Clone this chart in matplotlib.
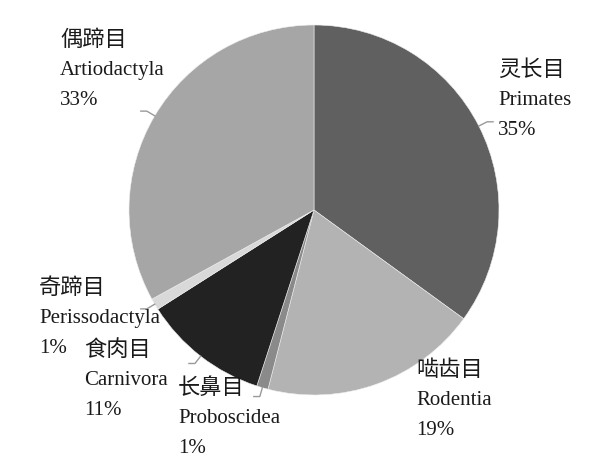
import numpy as np
import matplotlib.pyplot as plt

plt.rcParams['font.family'] = ['Liberation Serif', 'Noto Sans CJK SC']

# Orders of mammals, clockwise from 12 o'clock
names_cn = ['灵长目', '啮齿目', '长鼻目', '食肉目', '奇蹄目', '偶蹄目']
names_en = ['Primates', 'Rodentia', 'Proboscidea', 'Carnivora', 'Perissodactyla', 'Artiodactyla']
shares = [35, 19, 1, 11, 1, 33]
colors = ['#606060', '#b3b3b3', '#8a8a8a', '#222222', '#d9d9d9', '#a6a6a6']

# label placement (pixel coords, top-left of text block) and whether a leader is drawn
label_pos = [(498, 60), (416, 360), (178, 378), (84, 340), (39, 278), (60, 30)]
leader = [True, False, True, True, True, True]

W, H = 597, 465
fig = plt.figure(figsize=(W / 100, H / 100), dpi=100)
ax = fig.add_axes([0, 0, 1, 1])
cx, cy, R = 314, H - 210, 185
wedges, _ = ax.pie(shares, colors=colors, startangle=90, counterclock=False,
                   center=(cx, cy), radius=R, frame=True,
                   wedgeprops=dict(edgecolor='#eeeeee', linewidth=0.4))
ax.set_xlim(0, W)
ax.set_ylim(0, H)
ax.set_aspect('equal')
ax.axis('off')

line_h = 30
for w, cn, en, s, (lx, ly), ld in zip(wedges, names_cn, names_en, shares, label_pos, leader):
    ax.text(lx, H - ly, cn, fontsize=16, va='top', ha='left', color='#1a1a1a')
    ax.text(lx, H - ly - line_h - 1, en, fontsize=15, va='top', ha='left', color='#1a1a1a')
    ax.text(lx, H - ly - 2 * line_h - 1, f'{s}%', fontsize=15, va='top', ha='left', color='#1a1a1a')
    if ld:
        ang = np.deg2rad((w.theta1 + w.theta2) / 2)
        x0, y0 = cx + R * np.cos(ang), cy + R * np.sin(ang)
        x1, y1 = cx + R * 1.05 * np.cos(ang), cy + R * 1.05 * np.sin(ang)
        xe = x1 + (6 if np.cos(ang) > 0 else -6)
        ax.plot([x0, x1, xe], [y0, y1, y1], color='#999999', lw=1.0)

fig.savefig('out.png', dpi=100)
